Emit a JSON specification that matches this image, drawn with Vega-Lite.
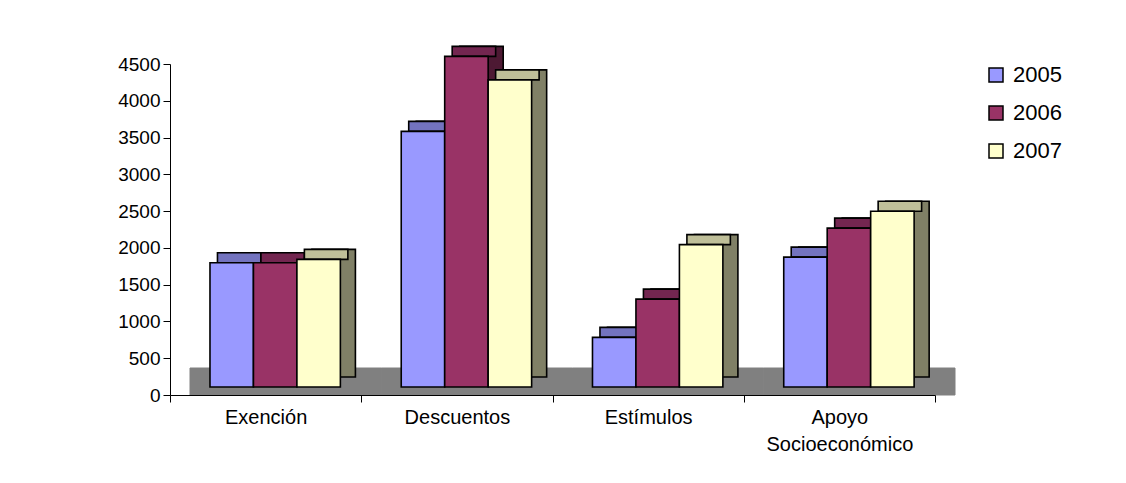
{
  "$schema": "https://vega.github.io/schema/vega-lite/v6.json",
  "width": 765,
  "height": 331,
  "autosize": {"type": "none"},
  "padding": {"left": 170, "top": 64, "right": 191, "bottom": 88},
  "background": "white",
  "config": {
    "view": {"stroke": null},
    "font": "Liberation Sans",
    "axisY": {
      "title": null,
      "values": [0, 500, 1000, 1500, 2000, 2500, 3000, 3500, 4000, 4500],
      "format": "d",
      "grid": false,
      "labelFontSize": 19,
      "labelColor": "#000000",
      "labelPadding": 3,
      "tickSize": 7,
      "tickColor": "#000000",
      "domainColor": "#000000",
      "zindex": 1
    }
  },
  "datasets": {
    "bars": [
      {"cat": "Exención", "year": "2005", "value": 1690},
      {"cat": "Exención", "year": "2006", "value": 1690},
      {"cat": "Exención", "year": "2007", "value": 1735},
      {"cat": "Descuentos", "year": "2005", "value": 3475},
      {"cat": "Descuentos", "year": "2006", "value": 4495},
      {"cat": "Descuentos", "year": "2007", "value": 4175},
      {"cat": "Estímulos", "year": "2005", "value": 675},
      {"cat": "Estímulos", "year": "2006", "value": 1195},
      {"cat": "Estímulos", "year": "2007", "value": 1935},
      {"cat": "Apoyo Socioeconómico", "year": "2005", "value": 1765},
      {"cat": "Apoyo Socioeconómico", "year": "2006", "value": 2160},
      {"cat": "Apoyo Socioeconómico", "year": "2007", "value": 2390}
    ],
    "floor": [
      {"cat": "Exención"},
      {"cat": "Descuentos"},
      {"cat": "Estímulos"},
      {"cat": "Apoyo Socioeconómico"}
    ]
  },
  "encoding": {
    "x": {
      "field": "cat",
      "type": "nominal",
      "sort": ["Exención", "Descuentos", "Estímulos", "Apoyo Socioeconómico"],
      "scale": {"paddingInner": 0, "paddingOuter": 0},
      "axis": {
        "title": null,
        "tickBand": "extent",
        "labelAngle": 0,
        "labelFontSize": 20,
        "labelPadding": 5,
        "labelColor": "#000000",
        "labelLineHeight": 27,
        "labelExpr": "datum.label == 'Apoyo Socioeconómico' ? ['Apoyo', 'Socioeconómico'] : datum.label",
        "tickSize": 7,
        "tickColor": "#000000",
        "domainColor": "#000000",
        "zindex": 1
      }
    }
  },
  "resolve": {"scale": {"xOffset": "independent"}},
  "layer": [
    {
      "data": {"name": "floor"},
      "mark": {"type": "bar", "xOffset": 20, "color": "#808080", "stroke": "#808080", "strokeWidth": 1},
      "encoding": {
        "y": {
          "datum": 0,
          "type": "quantitative",
          "title": null,
          "scale": {"domain": [0, 4500], "nice": false}
        },
        "y2": {"datum": 367}
      }
    },
    {
      "data": {"name": "bars"},
      "mark": {"type": "bar", "yOffset": -18, "y2Offset": -18, "stroke": "#000000", "strokeWidth": 1.6},
      "encoding": {
        "xOffset": {"field": "year", "type": "nominal", "sort": ["2005", "2006", "2007"], "scale": {"paddingInner": 0, "paddingOuter": 0.7, "align": 0.904}},
        "y": {"field": "value", "type": "quantitative", "title": null},
        "y2": {"datum": 0},
        "fill": {
          "condition": [
            {"test": "datum.year == '2005'", "value": "#5c5c99"},
            {"test": "datum.year == '2006'", "value": "#4d1933"}
          ],
          "value": "#808066"
        }
      }
    },
    {
      "data": {"name": "bars"},
      "mark": {"type": "bar", "yOffset": -18, "y2Offset": -8, "stroke": "#000000", "strokeWidth": 1.6},
      "encoding": {
        "xOffset": {"field": "year", "type": "nominal", "sort": ["2005", "2006", "2007"], "scale": {"paddingInner": 0, "paddingOuter": 0.7, "align": 0.78}},
        "y": {"field": "value", "type": "quantitative", "title": null},
        "y2": {"field": "value"},
        "fill": {
          "condition": [
            {"test": "datum.year == '2005'", "value": "#7373bf"},
            {"test": "datum.year == '2006'", "value": "#732650"}
          ],
          "value": "#bfbf99"
        }
      }
    },
    {
      "data": {"name": "bars"},
      "mark": {"type": "bar", "yOffset": -8, "y2Offset": -8, "stroke": "#000000", "strokeWidth": 1.6},
      "encoding": {
        "xOffset": {"field": "year", "type": "nominal", "sort": ["2005", "2006", "2007"], "scale": {"paddingInner": 0, "paddingOuter": 0.7, "align": 0.657}},
        "y": {"field": "value", "type": "quantitative", "title": null},
        "y2": {"datum": 0},
        "color": {
          "field": "year",
          "type": "nominal",
          "scale": {"domain": ["2005", "2006", "2007"], "range": ["#9999FF", "#993366", "#FFFFCC"]},
          "legend": {
            "title": null,
            "offset": 50,
            "padding": 0,
            "labelFontSize": 22,
            "labelColor": "#000000",
            "labelOffset": 6,
            "symbolType": "square",
            "symbolSize": 196,
            "symbolStrokeColor": "#000000",
            "symbolStrokeWidth": 1.5,
            "rowPadding": 16
          }
        }
      }
    }
  ]
}
